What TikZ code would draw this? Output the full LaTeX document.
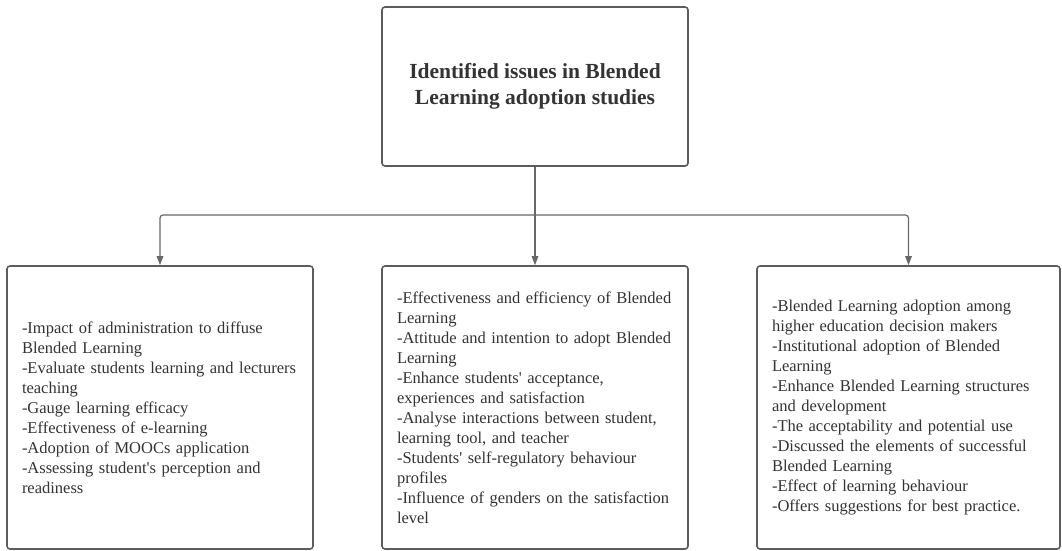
\documentclass[tikz,border=0pt]{standalone}
\usepackage{fontspec}
\setmainfont{Liberation Serif}
\usetikzlibrary{arrows.meta}
\definecolor{boxline}{HTML}{5C5C5C}
\definecolor{connline}{HTML}{676767}
\definecolor{txt}{HTML}{333333}
\newcommand{\apos}{\textquotesingle}
\tikzset{
  card/.style={draw=boxline, line width=1.6pt, rounded corners=3pt, fill=white,
    text=txt, inner xsep=15pt, inner ysep=0pt, anchor=center},
  titlebox/.style={card, minimum width=306pt, minimum height=159pt, align=center,
    font=\fontsize{21.5}{26}\selectfont\bfseries},
  listbox/.style={card, minimum height=283pt, align=left,
    font=\fontsize{16.5}{20}\selectfont},
  conn/.style={draw=connline, line width=1.2pt, rounded corners=3pt,
    -{Triangle[length=9pt,width=6.5pt]}}
}
\begin{document}
\begin{tikzpicture}[x=1pt,y=-1pt]
\useasboundingbox (0,0) rectangle (1062,551);
\node[titlebox] (top) at (535,86.5) {Identified issues in Blended\\Learning adoption studies};
\node[listbox, text width=276pt] (left) at (160,407.5) {-Impact of administration to diffuse\\Blended Learning\\-Evaluate students learning and lecturers\\teaching\\-Gauge learning efficacy\\-Effectiveness of e-learning\\-Adoption of MOOCs application\\-Assessing student\apos s perception and\\readiness};
\node[listbox, text width=276pt] (mid) at (535,407.5) {-Effectiveness and efficiency of Blended\\Learning\\-Attitude and intention to adopt Blended\\Learning\\-Enhance students\apos\ acceptance,\\experiences and satisfaction\\-Analyse interactions between student,\\learning tool, and teacher\\-Students\apos\ self-regulatory behaviour\\profiles\\-Influence of genders on the satisfaction\\level};
\node[listbox, text width=273pt] (right) at (908.5,407.5) {-Blended Learning adoption among\\higher education decision makers\\-Institutional adoption of Blended\\Learning\\-Enhance Blended Learning structures\\and development\\-The acceptability and potential use\\-Discussed the elements of successful\\Blended Learning\\-Effect of learning behaviour\\-Offers suggestions for best practice.};
\coordinate (j) at (535,215);
\draw[conn] (top.south) -- (mid.north);
\draw[conn] (top.south |- j) -| (left.north);
\draw[conn] (top.south |- j) -| (right.north);
\end{tikzpicture}
\end{document}
